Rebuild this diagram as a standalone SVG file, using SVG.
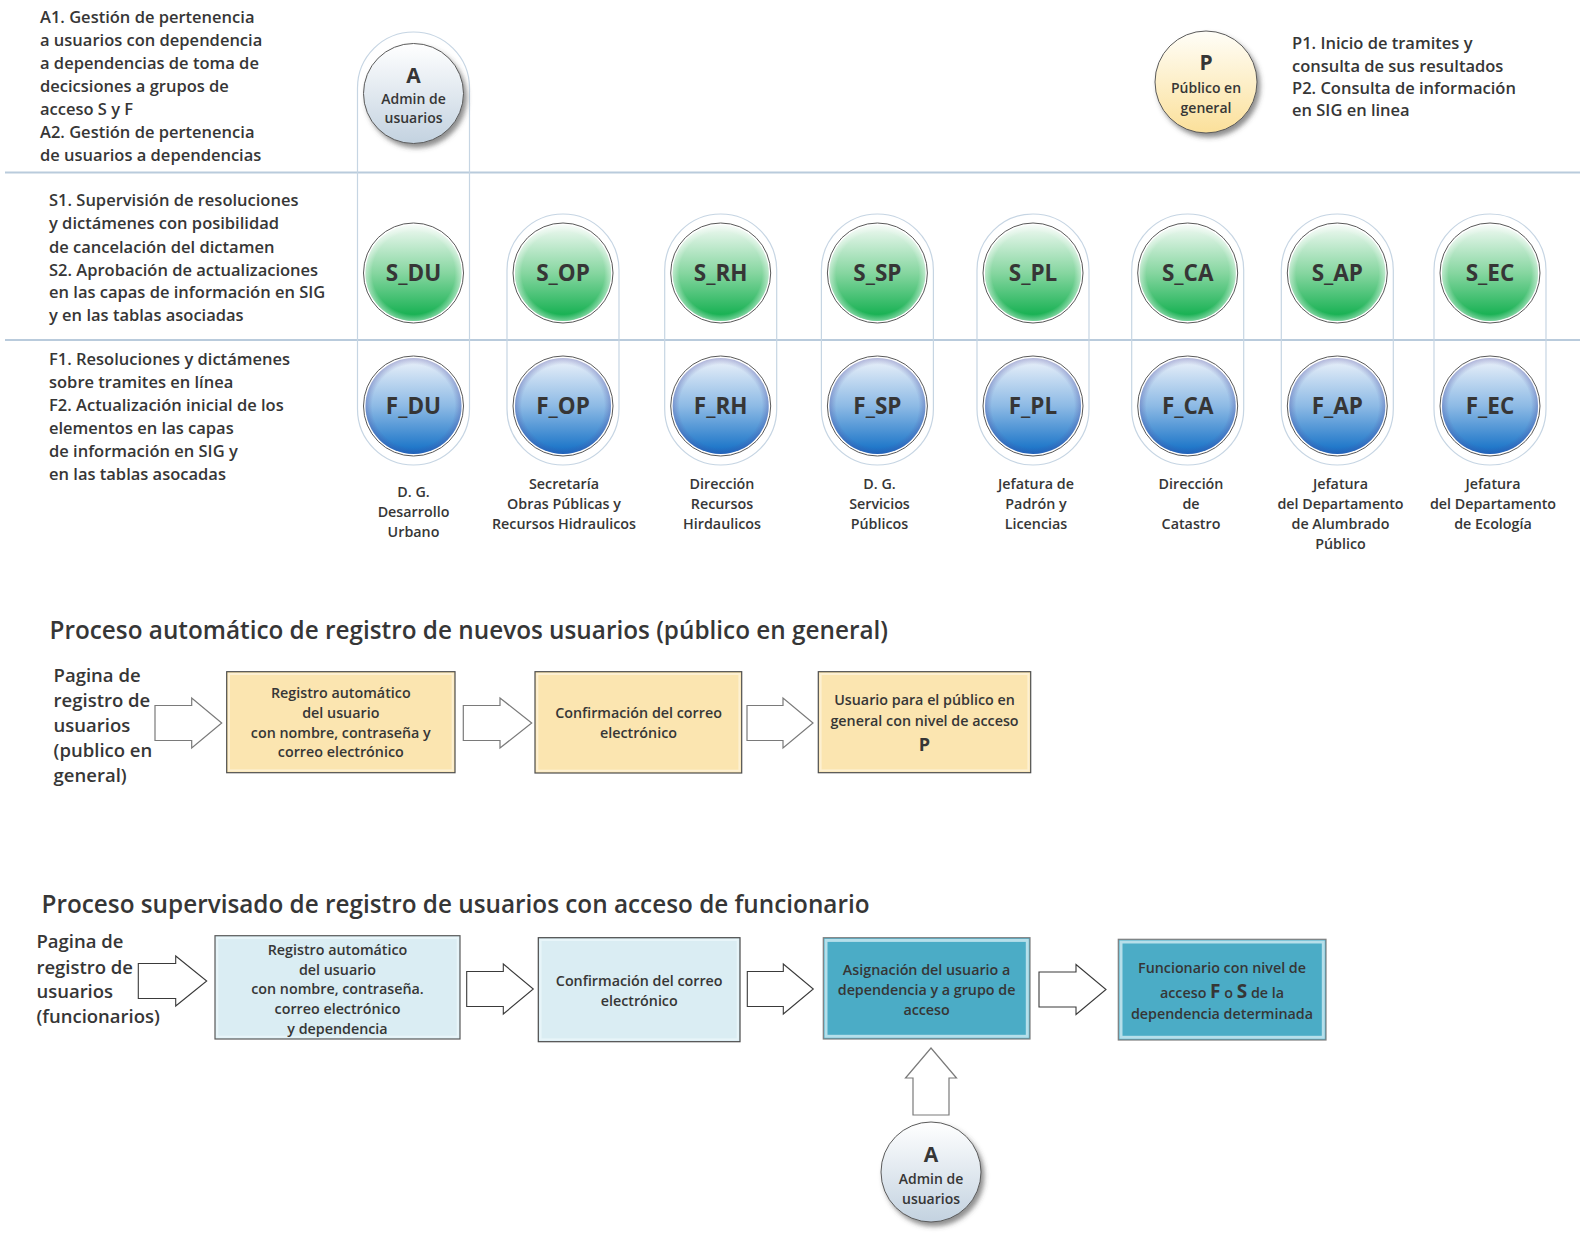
<svg xmlns="http://www.w3.org/2000/svg" width="1585" height="1233" viewBox="0 0 1585 1233">
<style>
.t{font-family:"Open Sans","Noto Sans","DejaVu Sans",sans-serif;font-weight:600;fill:#363636}
.desc{font-size:16.5px}
.lbl{font-size:14.3px;text-anchor:middle}
.circ{font-size:22.5px;font-weight:700;text-anchor:middle}
.ctx{font-size:14px;text-anchor:middle}
.cbig{font-size:21px;font-weight:700;text-anchor:middle}
.title{font-size:24.3px}
.side{font-size:18.5px}
.box{font-size:14.3px;text-anchor:middle}
.sep{stroke:#b9cbdc;stroke-width:2}
.cap{fill:none;stroke:#c6d5e3;stroke-width:1.2}
.ring{fill:#fff;stroke:#5a5a5a;stroke-width:1}
.arr{fill:#fff;stroke:#7a7a7a;stroke-width:1.2}
.arr2{fill:#fff;stroke:#3a3a3a;stroke-width:1.1}
</style>
<defs>
<linearGradient id="gS" x1="0" y1="0" x2="0" y2="1">
<stop offset="0" stop-color="#eff9f2"/>
<stop offset="0.5" stop-color="#86d6a0"/>
<stop offset="1" stop-color="#08ac48"/>
</linearGradient>
<linearGradient id="gF" x1="0" y1="0" x2="0" y2="1">
<stop offset="0" stop-color="#ecf2fa"/>
<stop offset="0.5" stop-color="#8dbae5"/>
<stop offset="1" stop-color="#106ec5"/>
</linearGradient>
<linearGradient id="gA" x1="0" y1="0" x2="0" y2="1">
<stop offset="0" stop-color="#ffffff"/>
<stop offset="1" stop-color="#c3d2e0"/>
</linearGradient>
<linearGradient id="gP" x1="0" y1="0" x2="0" y2="1">
<stop offset="0" stop-color="#fffef8"/>
<stop offset="1" stop-color="#fbe09a"/>
</linearGradient>
<radialGradient id="rimF" cx="0.5" cy="0.5" r="0.5">
<stop offset="0.86" stop-color="#4a4aa0" stop-opacity="0"/>
<stop offset="1" stop-color="#4a4aa0" stop-opacity="0.35"/>
</radialGradient>
<radialGradient id="rimS" cx="0.5" cy="0.5" r="0.5">
<stop offset="0.86" stop-color="#ffffff" stop-opacity="0"/>
<stop offset="1" stop-color="#ffffff" stop-opacity="0.45"/>
</radialGradient>
<filter id="sh" x="-30%" y="-30%" width="170%" height="170%">
<feDropShadow dx="3" dy="4" stdDeviation="2.5" flood-color="#444" flood-opacity="0.6"/>
</filter>
<g id="sCirc"><circle r="50" class="ring"/><circle r="48" fill="url(#gS)"/><circle r="48" fill="url(#rimS)"/></g>
<g id="fCirc"><circle r="50" class="ring"/><circle r="48" fill="url(#gF)"/><circle r="48" fill="url(#rimF)"/></g>
</defs>
<rect width="1585" height="1233" fill="#fff"/>

<g id="separators">
<line x1="5" y1="172.5" x2="1580" y2="172.5" class="sep"/>
<line x1="5" y1="340" x2="1580" y2="340" class="sep"/>
</g>

<g id="descriptions" class="t desc">
<text x="40" y="22.7">A1. Gestión de pertenencia</text>
<text x="40" y="45.8">a usuarios con dependencia</text>
<text x="40" y="68.8">a dependencias de toma de</text>
<text x="40" y="91.9">decicsiones a grupos de</text>
<text x="40" y="115">acceso S y F</text>
<text x="40" y="138">A2. Gestión de pertenencia</text>
<text x="40" y="161">de usuarios a dependencias</text>
<text x="49" y="206">S1. Supervisión de resoluciones</text>
<text x="49" y="229.3">y dictámenes con posibilidad</text>
<text x="49" y="252.7">de cancelación del dictamen</text>
<text x="49" y="275.5">S2. Aprobación de actualizaciones</text>
<text x="49" y="298.3">en las capas de información en SIG</text>
<text x="49" y="321">y en las tablas asociadas</text>
<text x="49" y="365.3">F1. Resoluciones y dictámenes</text>
<text x="49" y="388">sobre tramites en línea</text>
<text x="49" y="411">F2. Actualización inicial de los</text>
<text x="49" y="434">elementos en las capas</text>
<text x="49" y="456.7">de información en SIG y</text>
<text x="49" y="479.5">en las tablas asocadas</text>
<text x="1292" y="49.3">P1. Inicio de tramites y</text>
<text x="1292" y="71.7">consulta de sus resultados</text>
<text x="1292" y="94">P2. Consulta de información</text>
<text x="1292" y="116.3">en SIG en linea</text>
</g>

<g id="capsules">
<rect x="357.5" y="32" width="112" height="433" rx="56" class="cap"/>
<rect x="507" y="214" width="112" height="251" rx="56" class="cap"/>
<rect x="664.7" y="214" width="112" height="251" rx="56" class="cap"/>
<rect x="821.4" y="214" width="112" height="251" rx="56" class="cap"/>
<rect x="977" y="214" width="112" height="251" rx="56" class="cap"/>
<rect x="1131.7" y="214" width="112" height="251" rx="56" class="cap"/>
<rect x="1281.3" y="214" width="112" height="251" rx="56" class="cap"/>
<rect x="1434" y="214" width="112" height="251" rx="56" class="cap"/>
</g>

<g id="node-A">
<circle cx="413.5" cy="93.5" r="50" fill="url(#gA)" stroke="#5a5a5a" stroke-width="1" filter="url(#sh)"/>
<text x="413.5" y="83" class="t cbig">A</text>
<text x="413.5" y="104" class="t ctx">Admin de</text>
<text x="413.5" y="123" class="t ctx">usuarios</text>
</g>
<g id="node-P">
<circle cx="1206" cy="82" r="51" fill="url(#gP)" stroke="#5a5a5a" stroke-width="1" filter="url(#sh)"/>
<text x="1206" y="70" class="t cbig">P</text>
<text x="1206" y="93" class="t ctx">Público en</text>
<text x="1206" y="113" class="t ctx">general</text>
</g>

<g id="node-S_DU"><use href="#sCirc" x="413.5" y="273"/><text x="413.5" y="281" class="t circ">S_DU</text></g>
<g id="node-S_OP"><use href="#sCirc" x="563" y="273"/><text x="563" y="281" class="t circ">S_OP</text></g>
<g id="node-S_RH"><use href="#sCirc" x="720.7" y="273"/><text x="720.7" y="281" class="t circ">S_RH</text></g>
<g id="node-S_SP"><use href="#sCirc" x="877.4" y="273"/><text x="877.4" y="281" class="t circ">S_SP</text></g>
<g id="node-S_PL"><use href="#sCirc" x="1033" y="273"/><text x="1033" y="281" class="t circ">S_PL</text></g>
<g id="node-S_CA"><use href="#sCirc" x="1187.7" y="273"/><text x="1187.7" y="281" class="t circ">S_CA</text></g>
<g id="node-S_AP"><use href="#sCirc" x="1337.3" y="273"/><text x="1337.3" y="281" class="t circ">S_AP</text></g>
<g id="node-S_EC"><use href="#sCirc" x="1490" y="273"/><text x="1490" y="281" class="t circ">S_EC</text></g>

<g id="node-F_DU"><use href="#fCirc" x="413.5" y="406"/><text x="413.5" y="414" class="t circ">F_DU</text></g>
<g id="node-F_OP"><use href="#fCirc" x="563" y="406"/><text x="563" y="414" class="t circ">F_OP</text></g>
<g id="node-F_RH"><use href="#fCirc" x="720.7" y="406"/><text x="720.7" y="414" class="t circ">F_RH</text></g>
<g id="node-F_SP"><use href="#fCirc" x="877.4" y="406"/><text x="877.4" y="414" class="t circ">F_SP</text></g>
<g id="node-F_PL"><use href="#fCirc" x="1033" y="406"/><text x="1033" y="414" class="t circ">F_PL</text></g>
<g id="node-F_CA"><use href="#fCirc" x="1187.7" y="406"/><text x="1187.7" y="414" class="t circ">F_CA</text></g>
<g id="node-F_AP"><use href="#fCirc" x="1337.3" y="406"/><text x="1337.3" y="414" class="t circ">F_AP</text></g>
<g id="node-F_EC"><use href="#fCirc" x="1490" y="406"/><text x="1490" y="414" class="t circ">F_EC</text></g>

<g id="dept-labels" class="t lbl">
<text x="413.5" y="497">D. G.</text><text x="413.5" y="517">Desarrollo</text><text x="413.5" y="537">Urbano</text>
<text x="564" y="489">Secretaría</text><text x="564" y="509">Obras Públicas y</text><text x="564" y="529">Recursos Hidraulicos</text>
<text x="722" y="489">Dirección</text><text x="722" y="509">Recursos</text><text x="722" y="529">Hirdaulicos</text>
<text x="879.5" y="489">D. G.</text><text x="879.5" y="509">Servicios</text><text x="879.5" y="529">Públicos</text>
<text x="1036" y="489">Jefatura de</text><text x="1036" y="509">Padrón y</text><text x="1036" y="529">Licencias</text>
<text x="1191" y="489">Dirección</text><text x="1191" y="509">de</text><text x="1191" y="529">Catastro</text>
<text x="1340.5" y="489">Jefatura</text><text x="1340.5" y="509">del Departamento</text><text x="1340.5" y="529">de Alumbrado</text><text x="1340.5" y="549">Público</text>
<text x="1493" y="489">Jefatura</text><text x="1493" y="509">del Departamento</text><text x="1493" y="529">de Ecología</text>
</g>

<g id="titles" class="t title">
<text x="49.5" y="639">Proceso automático de registro de nuevos usuarios (público en general)</text>
<text x="41.5" y="913">Proceso supervisado de registro de usuarios con acceso de funcionario</text>
</g>

<g id="side-labels" class="t side">
<text x="53.6" y="682">Pagina de</text>
<text x="53.6" y="707">registro de</text>
<text x="53.6" y="732">usuarios</text>
<text x="53.6" y="757">(publico en</text>
<text x="53.6" y="782">general)</text>
<text x="36.4" y="948">Pagina de</text>
<text x="36.4" y="973.5">registro de</text>
<text x="36.4" y="998">usuarios</text>
<text x="36.4" y="1023">(funcionarios)</text>
</g>

<g id="connectors">
<path class="arr" d="M155,705.5 H191.7 V698 L221.7,723 L191.7,748 V740.5 H155 Z"/>
<path class="arr" d="M463.3,705.5 H500 V698 L531.7,723 L500,748 V740.5 H463.3 Z"/>
<path class="arr" d="M747,705.5 H783 V698 L813,723 L783,748 V740.5 H747 Z"/>
<path class="arr2" d="M138.3,963.5 H175.7 V956 L206.7,981 L175.7,1006 V998.5 H138.3 Z"/>
<path class="arr2" d="M466.7,971.5 H503.3 V964 L533.3,989 L503.3,1014 V1006.5 H466.7 Z"/>
<path class="arr2" d="M747.3,971.5 H783.3 V964 L813.3,989 L783.3,1014 V1006.5 H747.3 Z"/>
<path class="arr2" d="M1039,972 H1076 V964.5 L1106,989.5 L1076,1014.5 V1007 H1039 Z"/>
<path class="arr" d="M913,1115 V1078 H905.5 L931,1048 L956.5,1078 H949 V1115 Z"/>
</g>

<g id="box-p1-registro">
<rect x="226.7" y="671.7" width="228.3" height="101" fill="#fbe5b0" stroke="#4d4d4d" stroke-width="1.2"/>
<rect x="229" y="674" width="223.7" height="96.4" fill="none" stroke="#fdf0d2" stroke-width="2"/>
<text class="t box" x="340.8" y="698">Registro automático</text>
<text class="t box" x="340.8" y="718">del usuario</text>
<text class="t box" x="340.8" y="737.5">con nombre, contraseña y</text>
<text class="t box" x="340.8" y="757">correo electrónico</text>
</g>
<g id="box-p1-confirmacion">
<rect x="535" y="671.7" width="206.7" height="101.3" fill="#fbe5b0" stroke="#4d4d4d" stroke-width="1.2"/>
<rect x="537.3" y="674" width="202.1" height="96.7" fill="none" stroke="#fdf0d2" stroke-width="2"/>
<text class="t box" x="638.5" y="718">Confirmación del correo</text>
<text class="t box" x="638.5" y="738">electrónico</text>
</g>
<g id="box-p1-usuario">
<rect x="818.3" y="671.7" width="212.4" height="101" fill="#fbe5b0" stroke="#4d4d4d" stroke-width="1.2"/>
<rect x="820.6" y="674" width="207.8" height="96.4" fill="none" stroke="#fdf0d2" stroke-width="2"/>
<text class="t box" x="924.5" y="705">Usuario para el público en</text>
<text class="t box" x="924.5" y="725.5">general con nivel de acceso</text>
<text class="t box" x="924.5" y="750.5" style="font-size:18px;font-weight:700">P</text>
</g>

<g id="box-p2-registro">
<rect x="215" y="935.7" width="245" height="103.3" fill="#daedf3" stroke="#5a5a5a" stroke-width="1.2"/>
<rect x="217.3" y="938" width="240.4" height="98.7" fill="none" stroke="#e8f5f9" stroke-width="2"/>
<text class="t box" x="337.5" y="955">Registro automático</text>
<text class="t box" x="337.5" y="974.5">del usuario</text>
<text class="t box" x="337.5" y="994">con nombre, contraseña.</text>
<text class="t box" x="337.5" y="1014">correo electrónico</text>
<text class="t box" x="337.5" y="1033.5">y dependencia</text>
</g>
<g id="box-p2-confirmacion">
<rect x="538.3" y="937.7" width="201.7" height="104" fill="#daedf3" stroke="#4a4a4a" stroke-width="1.2"/>
<rect x="540.6" y="940" width="197.1" height="99.4" fill="none" stroke="#e8f5f9" stroke-width="2"/>
<text class="t box" x="639.2" y="986">Confirmación del correo</text>
<text class="t box" x="639.2" y="1006">electrónico</text>
</g>
<g id="box-p2-asignacion">
<rect x="823.3" y="937.7" width="206.7" height="101.3" fill="#4bacc6" stroke="#7f7f7f" stroke-width="1.2"/>
<rect x="826" y="940.4" width="201.3" height="95.9" fill="none" stroke="#b6dfea" stroke-width="3"/>
<text class="t box" x="926.6" y="975">Asignación del usuario a</text>
<text class="t box" x="926.6" y="995">dependencia y a grupo de</text>
<text class="t box" x="926.6" y="1015">acceso</text>
</g>
<g id="box-p2-funcionario">
<rect x="1118.3" y="939.3" width="207.7" height="100.7" fill="#4bacc6" stroke="#7f7f7f" stroke-width="1.2"/>
<rect x="1121" y="942" width="202.3" height="95.3" fill="none" stroke="#b6dfea" stroke-width="3"/>
<text class="t box" x="1222" y="973">Funcionario con nivel de</text>
<text class="t box" x="1222" y="997.5">acceso <tspan style="font-size:19px;font-weight:700">F</tspan> o <tspan style="font-size:19px;font-weight:700">S</tspan> de la</text>
<text class="t box" x="1222" y="1018.5">dependencia determinada</text>
</g>

<g id="node-A-bottom">
<circle cx="931" cy="1172" r="50" fill="url(#gA)" stroke="#5a5a5a" stroke-width="1" filter="url(#sh)"/>
<text x="931" y="1162" class="t cbig">A</text>
<text x="931" y="1184" class="t ctx">Admin de</text>
<text x="931" y="1204" class="t ctx">usuarios</text>
</g>
</svg>
